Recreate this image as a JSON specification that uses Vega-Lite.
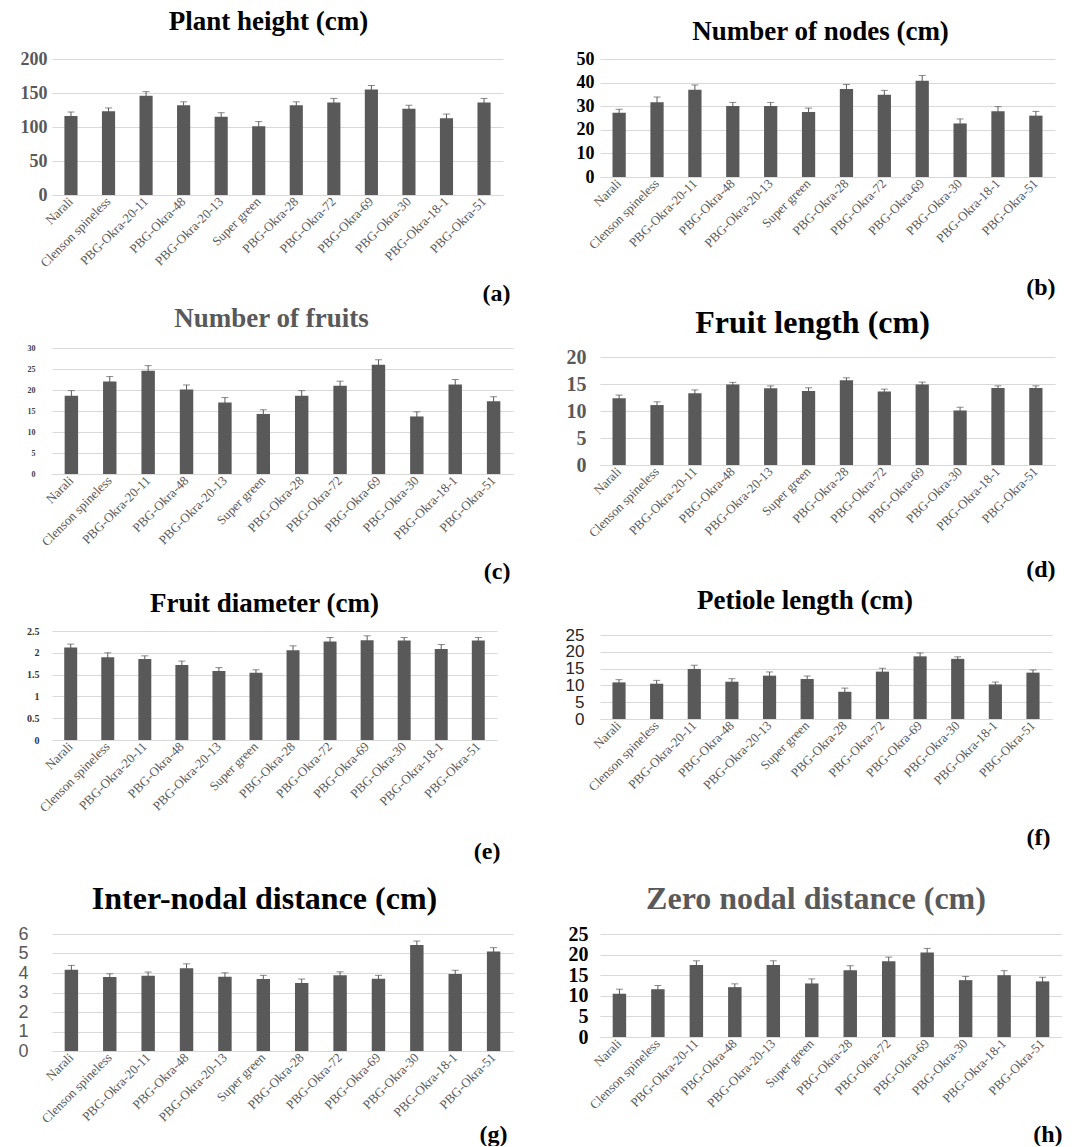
{
  "$schema": "https://vega.github.io/schema/vega-lite/v6.json",
  "background": "white",
  "padding": {"left": 0, "top": 8, "right": 0, "bottom": 0},
  "datasets": {
    "a": [
      {"genotype": "Narali", "mean": 116, "se": 6},
      {"genotype": "Clenson spineless", "mean": 123, "se": 5},
      {"genotype": "PBG-Okra-20-11", "mean": 146, "se": 6},
      {"genotype": "PBG-Okra-48", "mean": 132, "se": 5},
      {"genotype": "PBG-Okra-20-13", "mean": 115, "se": 6},
      {"genotype": "Super green", "mean": 101, "se": 7},
      {"genotype": "PBG-Okra-28", "mean": 132, "se": 5},
      {"genotype": "PBG-Okra-72", "mean": 136, "se": 6},
      {"genotype": "PBG-Okra-69", "mean": 155, "se": 6},
      {"genotype": "PBG-Okra-30", "mean": 127, "se": 5},
      {"genotype": "PBG-Okra-18-1", "mean": 113, "se": 6},
      {"genotype": "PBG-Okra-51", "mean": 136, "se": 6}
    ],
    "b": [
      {"genotype": "Narali", "mean": 27.2, "se": 1.5},
      {"genotype": "Clenson spineless", "mean": 31.7, "se": 2.2},
      {"genotype": "PBG-Okra-20-11", "mean": 37.0, "se": 2.0},
      {"genotype": "PBG-Okra-48", "mean": 30.1, "se": 1.5},
      {"genotype": "PBG-Okra-20-13", "mean": 30.1, "se": 1.5},
      {"genotype": "Super green", "mean": 27.5, "se": 1.7},
      {"genotype": "PBG-Okra-28", "mean": 37.3, "se": 1.9},
      {"genotype": "PBG-Okra-72", "mean": 34.8, "se": 1.9},
      {"genotype": "PBG-Okra-69", "mean": 40.8, "se": 2.2},
      {"genotype": "PBG-Okra-30", "mean": 22.7, "se": 1.9},
      {"genotype": "PBG-Okra-18-1", "mean": 27.9, "se": 1.9},
      {"genotype": "PBG-Okra-51", "mean": 26.0, "se": 1.8}
    ],
    "c": [
      {"genotype": "Narali", "mean": 18.65, "se": 1.2},
      {"genotype": "Clenson spineless", "mean": 22.0, "se": 1.2},
      {"genotype": "PBG-Okra-20-11", "mean": 24.6, "se": 1.2},
      {"genotype": "PBG-Okra-48", "mean": 20.1, "se": 1.1},
      {"genotype": "PBG-Okra-20-13", "mean": 17.0, "se": 1.2},
      {"genotype": "Super green", "mean": 14.3, "se": 1.0},
      {"genotype": "PBG-Okra-28", "mean": 18.65, "se": 1.2},
      {"genotype": "PBG-Okra-72", "mean": 21.0, "se": 1.1},
      {"genotype": "PBG-Okra-69", "mean": 26.0, "se": 1.2},
      {"genotype": "PBG-Okra-30", "mean": 13.7, "se": 1.1},
      {"genotype": "PBG-Okra-18-1", "mean": 21.3, "se": 1.2},
      {"genotype": "PBG-Okra-51", "mean": 17.3, "se": 1.1}
    ],
    "d": [
      {"genotype": "Narali", "mean": 12.35, "se": 0.6},
      {"genotype": "Clenson spineless", "mean": 11.1, "se": 0.6},
      {"genotype": "PBG-Okra-20-11", "mean": 13.3, "se": 0.6},
      {"genotype": "PBG-Okra-48", "mean": 14.9, "se": 0.4},
      {"genotype": "PBG-Okra-20-13", "mean": 14.2, "se": 0.45},
      {"genotype": "Super green", "mean": 13.7, "se": 0.6},
      {"genotype": "PBG-Okra-28", "mean": 15.7, "se": 0.45},
      {"genotype": "PBG-Okra-72", "mean": 13.6, "se": 0.45},
      {"genotype": "PBG-Okra-69", "mean": 14.9, "se": 0.45},
      {"genotype": "PBG-Okra-30", "mean": 10.1, "se": 0.6},
      {"genotype": "PBG-Okra-18-1", "mean": 14.26, "se": 0.4},
      {"genotype": "PBG-Okra-51", "mean": 14.26, "se": 0.4}
    ],
    "e": [
      {"genotype": "Narali", "mean": 2.12, "se": 0.08},
      {"genotype": "Clenson spineless", "mean": 1.90, "se": 0.1},
      {"genotype": "PBG-Okra-20-11", "mean": 1.86, "se": 0.07},
      {"genotype": "PBG-Okra-48", "mean": 1.72, "se": 0.09},
      {"genotype": "PBG-Okra-20-13", "mean": 1.58, "se": 0.08},
      {"genotype": "Super green", "mean": 1.54, "se": 0.07},
      {"genotype": "PBG-Okra-28", "mean": 2.06, "se": 0.1},
      {"genotype": "PBG-Okra-72", "mean": 2.26, "se": 0.09},
      {"genotype": "PBG-Okra-69", "mean": 2.29, "se": 0.1},
      {"genotype": "PBG-Okra-30", "mean": 2.28, "se": 0.07},
      {"genotype": "PBG-Okra-18-1", "mean": 2.09, "se": 0.1},
      {"genotype": "PBG-Okra-51", "mean": 2.28, "se": 0.07}
    ],
    "f": [
      {"genotype": "Narali", "mean": 10.9, "se": 0.8},
      {"genotype": "Clenson spineless", "mean": 10.5, "se": 1.0},
      {"genotype": "PBG-Okra-20-11", "mean": 14.9, "se": 1.1},
      {"genotype": "PBG-Okra-48", "mean": 11.1, "se": 0.9},
      {"genotype": "PBG-Okra-20-13", "mean": 12.9, "se": 1.1},
      {"genotype": "Super green", "mean": 11.9, "se": 0.9},
      {"genotype": "PBG-Okra-28", "mean": 8.1, "se": 1.1},
      {"genotype": "PBG-Okra-72", "mean": 14.1, "se": 1.0},
      {"genotype": "PBG-Okra-69", "mean": 18.65, "se": 1.0},
      {"genotype": "PBG-Okra-30", "mean": 17.9, "se": 0.6},
      {"genotype": "PBG-Okra-18-1", "mean": 10.3, "se": 0.7},
      {"genotype": "PBG-Okra-51", "mean": 13.8, "se": 0.8}
    ],
    "g": [
      {"genotype": "Narali", "mean": 4.17, "se": 0.22},
      {"genotype": "Clenson spineless", "mean": 3.79, "se": 0.17},
      {"genotype": "PBG-Okra-20-11", "mean": 3.86, "se": 0.19},
      {"genotype": "PBG-Okra-48", "mean": 4.25, "se": 0.22},
      {"genotype": "PBG-Okra-20-13", "mean": 3.81, "se": 0.2},
      {"genotype": "Super green", "mean": 3.69, "se": 0.19},
      {"genotype": "PBG-Okra-28", "mean": 3.49, "se": 0.2},
      {"genotype": "PBG-Okra-72", "mean": 3.89, "se": 0.17},
      {"genotype": "PBG-Okra-69", "mean": 3.71, "se": 0.17},
      {"genotype": "PBG-Okra-30", "mean": 5.44, "se": 0.2},
      {"genotype": "PBG-Okra-18-1", "mean": 3.95, "se": 0.19},
      {"genotype": "PBG-Okra-51", "mean": 5.10, "se": 0.2}
    ],
    "h": [
      {"genotype": "Narali", "mean": 10.5, "se": 1.1},
      {"genotype": "Clenson spineless", "mean": 11.6, "se": 0.9},
      {"genotype": "PBG-Okra-20-11", "mean": 17.5, "se": 1.0},
      {"genotype": "PBG-Okra-48", "mean": 12.1, "se": 0.8},
      {"genotype": "PBG-Okra-20-13", "mean": 17.5, "se": 1.0},
      {"genotype": "Super green", "mean": 13.0, "se": 1.1},
      {"genotype": "PBG-Okra-28", "mean": 16.2, "se": 1.1},
      {"genotype": "PBG-Okra-72", "mean": 18.4, "se": 1.0},
      {"genotype": "PBG-Okra-69", "mean": 20.5, "se": 1.0},
      {"genotype": "PBG-Okra-30", "mean": 13.8, "se": 0.9},
      {"genotype": "PBG-Okra-18-1", "mean": 15.0, "se": 1.1},
      {"genotype": "PBG-Okra-51", "mean": 13.5, "se": 1.0}
    ]
  },
  "spacing": 47,
  "hconcat": [
    {
      "spacing": 0,
      "vconcat": [
        {
          "data": {"name": "a"},
          "width": 451, "height": 136,
          "title": {"text": "Plant height (cm)", "fontSize": 27, "offset": 14, "dx": -9, "color": "#000000"},
          "encoding": {
            "x": {"field": "genotype", "type": "nominal",
              "sort": ["Narali","Clenson spineless","PBG-Okra-20-11","PBG-Okra-48","PBG-Okra-20-13","Super green","PBG-Okra-28","PBG-Okra-72","PBG-Okra-69","PBG-Okra-30","PBG-Okra-18-1","PBG-Okra-51"],
              "scale": {"paddingInner": 0.65, "paddingOuter": 0.33},
              "axis": {"title": "(a)", "titleX": 458, "titleY": 98, "minExtent": 110}},
            "y": {"field": "mean", "type": "quantitative", "scale": {"domain": [0, 200], "nice": false},
              "axis": {"title": null, "values": [0, 50, 100, 150, 200], "minExtent": 52, "labelPadding": 5,
                "labelFont": "Liberation Serif", "labelFontSize": 18, "labelFontWeight": "bold", "labelColor": "#595959"}}
          },
          "layer": [
            {"mark": {"type": "bar", "color": "#595959"}},
            {"mark": {"type": "errorbar", "color": "#595959", "ticks": {"size": 7, "color": "#595959"}}, "encoding": {"yError": {"field": "se"}}}
          ]
        },
        {
          "data": {"name": "c"},
          "width": 461, "height": 126,
          "title": {"text": "Number of fruits", "fontSize": 27, "offset": 11, "dx": -11, "color": "#595959"},
          "encoding": {
            "x": {"field": "genotype", "type": "nominal",
              "sort": ["Narali","Clenson spineless","PBG-Okra-20-11","PBG-Okra-48","PBG-Okra-20-13","Super green","PBG-Okra-28","PBG-Okra-72","PBG-Okra-69","PBG-Okra-30","PBG-Okra-18-1","PBG-Okra-51"],
              "scale": {"paddingInner": 0.65, "paddingOuter": 0.33},
              "axis": {"title": "(c)", "titleX": 458, "titleY": 97, "minExtent": 116}},
            "y": {"field": "mean", "type": "quantitative", "scale": {"domain": [0, 30], "nice": false},
              "axis": {"title": null, "values": [0, 5, 10, 15, 20, 25, 30], "minExtent": 52, "labelPadding": 17,
                "labelFont": "Liberation Serif", "labelFontSize": 8, "labelFontWeight": "bold", "labelColor": "#404040"}}
          },
          "layer": [
            {"mark": {"type": "bar", "color": "#595959"}},
            {"mark": {"type": "errorbar", "color": "#595959", "ticks": {"size": 7, "color": "#595959"}}, "encoding": {"yError": {"field": "se"}}}
          ]
        },
        {
          "data": {"name": "e"},
          "width": 445, "height": 109,
          "title": {"text": "Fruit diameter (cm)", "fontSize": 27, "offset": 8, "dx": -10, "color": "#000000"},
          "encoding": {
            "x": {"field": "genotype", "type": "nominal",
              "sort": ["Narali","Clenson spineless","PBG-Okra-20-11","PBG-Okra-48","PBG-Okra-20-13","Super green","PBG-Okra-28","PBG-Okra-72","PBG-Okra-69","PBG-Okra-30","PBG-Okra-18-1","PBG-Okra-51"],
              "scale": {"paddingInner": 0.65, "paddingOuter": 0.33},
              "axis": {"title": "(e)", "titleX": 448, "titleY": 111, "minExtent": 143}},
            "y": {"field": "mean", "type": "quantitative", "scale": {"domain": [0, 2.5], "nice": false},
              "axis": {"title": null, "values": [0, 0.5, 1, 1.5, 2, 2.5], "format": "~g", "minExtent": 52, "labelPadding": 13,
                "labelFont": "Liberation Serif", "labelFontSize": 10, "labelFontWeight": "bold", "labelColor": "#333333"}}
          },
          "layer": [
            {"mark": {"type": "bar", "color": "#595959"}},
            {"mark": {"type": "errorbar", "color": "#595959", "ticks": {"size": 7, "color": "#595959"}}, "encoding": {"yError": {"field": "se"}}}
          ]
        },
        {
          "data": {"name": "g"},
          "width": 461, "height": 117,
          "title": {"text": "Inter-nodal distance (cm)", "fontSize": 32, "offset": 9, "dx": -18, "color": "#000000"},
          "encoding": {
            "x": {"field": "genotype", "type": "nominal",
              "sort": ["Narali","Clenson spineless","PBG-Okra-20-11","PBG-Okra-48","PBG-Okra-20-13","Super green","PBG-Okra-28","PBG-Okra-72","PBG-Okra-69","PBG-Okra-30","PBG-Okra-18-1","PBG-Okra-51"],
              "scale": {"paddingInner": 0.65, "paddingOuter": 0.33},
              "axis": {"title": "(g)", "titleX": 455, "titleY": 83, "minExtent": 90}},
            "y": {"field": "mean", "type": "quantitative", "scale": {"domain": [0, 6], "nice": false},
              "axis": {"title": null, "values": [0, 1, 2, 3, 4, 5, 6], "minExtent": 52, "labelPadding": 24,
                "labelFont": "Liberation Sans", "labelFontSize": 18, "labelFontWeight": "normal", "labelColor": "#595959"}}
          },
          "layer": [
            {"mark": {"type": "bar", "color": "#595959"}},
            {"mark": {"type": "errorbar", "color": "#595959", "ticks": {"size": 7, "color": "#595959"}}, "encoding": {"yError": {"field": "se"}}}
          ]
        }
      ]
    },
    {
      "spacing": 0,
      "vconcat": [
        {
          "data": {"name": "b"},
          "width": 455, "height": 118,
          "title": {"text": "Number of nodes (cm)", "fontSize": 27, "offset": 4, "dx": -7, "color": "#000000"},
          "encoding": {
            "x": {"field": "genotype", "type": "nominal",
              "sort": ["Narali","Clenson spineless","PBG-Okra-20-11","PBG-Okra-48","PBG-Okra-20-13","Super green","PBG-Okra-28","PBG-Okra-72","PBG-Okra-69","PBG-Okra-30","PBG-Okra-18-1","PBG-Okra-51"],
              "scale": {"paddingInner": 0.65, "paddingOuter": 0.33},
              "axis": {"title": "(b)", "titleX": 455, "titleY": 110, "minExtent": 130}},
            "y": {"field": "mean", "type": "quantitative", "scale": {"domain": [0, 50], "nice": false},
              "axis": {"title": null, "values": [0, 10, 20, 30, 40, 50], "minExtent": 40, "labelPadding": 6,
                "labelFont": "Liberation Serif", "labelFontSize": 18, "labelFontWeight": "bold", "labelColor": "#000000"}}
          },
          "layer": [
            {"mark": {"type": "bar", "color": "#595959"}},
            {"mark": {"type": "errorbar", "color": "#595959", "ticks": {"size": 7, "color": "#595959"}}, "encoding": {"yError": {"field": "se"}}}
          ]
        },
        {
          "data": {"name": "d"},
          "width": 455, "height": 108,
          "title": {"text": "Fruit length (cm)", "fontSize": 32, "offset": 7, "dx": -15, "color": "#000000"},
          "encoding": {
            "x": {"field": "genotype", "type": "nominal",
              "sort": ["Narali","Clenson spineless","PBG-Okra-20-11","PBG-Okra-48","PBG-Okra-20-13","Super green","PBG-Okra-28","PBG-Okra-72","PBG-Okra-69","PBG-Okra-30","PBG-Okra-18-1","PBG-Okra-51"],
              "scale": {"paddingInner": 0.65, "paddingOuter": 0.33},
              "axis": {"title": "(d)", "titleX": 455, "titleY": 104, "minExtent": 122}},
            "y": {"field": "mean", "type": "quantitative", "scale": {"domain": [0, 20], "nice": false},
              "axis": {"title": null, "values": [0, 5, 10, 15, 20], "minExtent": 40, "labelPadding": 14,
                "labelFont": "Liberation Serif", "labelFontSize": 20, "labelFontWeight": "bold", "labelColor": "#595959"}}
          },
          "layer": [
            {"mark": {"type": "bar", "color": "#595959"}},
            {"mark": {"type": "errorbar", "color": "#595959", "ticks": {"size": 7, "color": "#595959"}}, "encoding": {"yError": {"field": "se"}}}
          ]
        },
        {
          "data": {"name": "f"},
          "width": 452, "height": 84,
          "title": {"text": "Petiole length (cm)", "fontSize": 27, "offset": 11, "dx": -21, "color": "#000000"},
          "encoding": {
            "x": {"field": "genotype", "type": "nominal",
              "sort": ["Narali","Clenson spineless","PBG-Okra-20-11","PBG-Okra-48","PBG-Okra-20-13","Super green","PBG-Okra-28","PBG-Okra-72","PBG-Okra-69","PBG-Okra-30","PBG-Okra-18-1","PBG-Okra-51"],
              "scale": {"paddingInner": 0.65, "paddingOuter": 0.33},
              "axis": {"title": "(f)", "titleX": 450, "titleY": 118, "minExtent": 164}},
            "y": {"field": "mean", "type": "quantitative", "scale": {"domain": [0, 25], "nice": false},
              "axis": {"title": null, "values": [0, 5, 10, 15, 20, 25], "minExtent": 40, "labelPadding": 16,
                "labelFont": "Liberation Sans", "labelFontSize": 17, "labelFontWeight": "normal", "labelColor": "#262626"}}
          },
          "layer": [
            {"mark": {"type": "bar", "color": "#595959"}},
            {"mark": {"type": "errorbar", "color": "#595959", "ticks": {"size": 7, "color": "#595959"}}, "encoding": {"yError": {"field": "se"}}}
          ]
        },
        {
          "data": {"name": "h"},
          "width": 462, "height": 103,
          "title": {"text": "Zero nodal distance (cm)", "fontSize": 32, "offset": 8, "dx": -15, "color": "#595959"},
          "encoding": {
            "x": {"field": "genotype", "type": "nominal",
              "sort": ["Narali","Clenson spineless","PBG-Okra-20-11","PBG-Okra-48","PBG-Okra-20-13","Super green","PBG-Okra-28","PBG-Okra-72","PBG-Okra-69","PBG-Okra-30","PBG-Okra-18-1","PBG-Okra-51"],
              "scale": {"paddingInner": 0.65, "paddingOuter": 0.33},
              "axis": {"title": "(h)", "titleX": 462, "titleY": 97, "minExtent": 90}},
            "y": {"field": "mean", "type": "quantitative", "scale": {"domain": [0, 25], "nice": false},
              "axis": {"title": null, "values": [0, 5, 10, 15, 20, 25], "minExtent": 40, "labelPadding": 12,
                "labelFont": "Liberation Serif", "labelFontSize": 20, "labelFontWeight": "bold", "labelColor": "#000000"}}
          },
          "layer": [
            {"mark": {"type": "bar", "color": "#595959"}},
            {"mark": {"type": "errorbar", "color": "#595959", "ticks": {"size": 7, "color": "#595959"}}, "encoding": {"yError": {"field": "se"}}}
          ]
        }
      ]
    }
  ],
  "config": {
    "view": {"stroke": null},
    "title": {"font": "Liberation Serif", "fontWeight": "bold", "anchor": "middle", "frame": "group"},
    "axisX": {
      "labelFont": "Liberation Serif", "labelFontSize": 13, "labelColor": "#595959",
      "labelAngle": -45, "labelAlign": "right", "labelBaseline": "middle", "labelPadding": 4,
      "labelOverlap": false, "labelLimit": 300,
      "ticks": false, "domain": true, "domainColor": "#d9d9d9", "grid": false,
      "titleFont": "Liberation Serif", "titleFontSize": 24, "titleFontWeight": "bold", "titleColor": "#000000",
      "titleAlign": "right", "titleBaseline": "middle"
    },
    "axisY": {
      "ticks": false, "domain": false, "grid": true, "gridColor": "#d9d9d9", "gridWidth": 1, "labelOverlap": false
    }
  }
}
